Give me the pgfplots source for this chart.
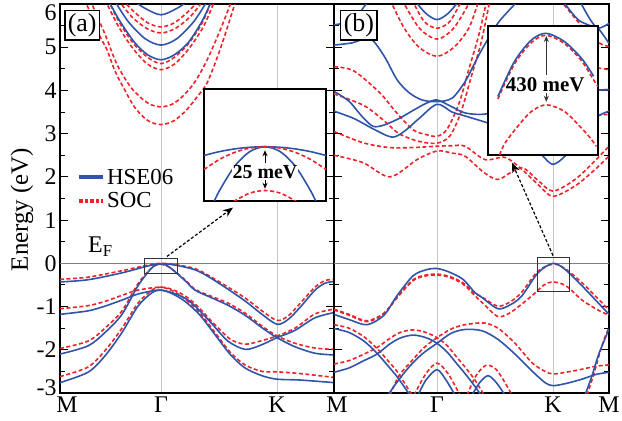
\documentclass[border=0pt]{standalone}
\usepackage{fontspec}
\setmainfont{Liberation Serif}
\usepackage{pgfplots}
\pgfplotsset{compat=1.18}
\usetikzlibrary{arrows.meta}
\definecolor{hseblue}{RGB}{48,84,168}
\definecolor{socred}{RGB}{236,36,42}
\newcommand{\fs}[1]{\fontsize{#1}{#1}\selectfont}
\pgfplotsset{
 hseline/.style={color=hseblue, line width=1.6bp, smooth, mark=none},
 socline/.style={color=socred, line width=1.6bp, dash pattern=on 4bp off 2.5bp, smooth, mark=none},
 band/.style={scale only axis, height=389bp, ymin=-3, ymax=6,
   ytick={-3,-2,...,6}, minor ytick={-2.5,-1.5,...,5.5},
   tick align=inside, major tick length=8bp, minor tick length=5bp,
   major tick style={black, line width=1.2bp}, minor tick style={black,line width=1bp},
   xtick style={draw=none},
   axis line style={line width=1.4bp},
   xmajorgrids, major grid style={color=black!22, line width=0.8bp},
   ticklabel style={font=\fs{24}},
   clip=true},
 inset/.style={scale only axis, ticks=none, axis line style={line width=1.4bp}, axis background/.style={fill=white}, clip=true},
}
\begin{document}
\begin{tikzpicture}
% ================= panel (a) =================
\begin{axis}[band, at={(0bp,0bp)}, anchor=south west, width=274bp,
  xmin=0, xmax=274, xtick={0,101,217,274}, xticklabels={\hspace{14bp}M,Γ,K,{}},
  yticklabels={\raisebox{5bp}[\height][\depth]{-3},-2,-1,0,1,2,3,4,5,\raisebox{-9bp}[\height][\depth]{6}},
  ylabel={Energy (eV)}, ylabel style={at={(rel axis cs:-0.139,0.472)}, anchor=center, font=\fs{25}},
  legend style={at={(rel axis cs:0.062,0.582)}, anchor=north west, draw=none, fill=none, font=\fs{23}, row sep=3bp, inner sep=0bp},
  legend cell align=left]
\addlegendimage{legend image code/.code={\draw[hseblue, line width=4bp] (0bp,0bp) -- (24bp,0bp);}}
\addlegendentry{HSE06}
\addlegendimage{legend image code/.code={\draw[socred, line width=4bp, dash pattern=on 3.5bp off 2bp] (0bp,0bp) -- (24bp,0bp);}}
\addlegendentry{SOC}
\addplot[gray, line width=0.8bp, forget plot] coordinates {(0,0) (274,0)};
% conduction bands SOC
\addplot[socline, forget plot] coordinates {(24,6.1) (29,5.87) (40,5.25) (47,4.94) (55,4.45) (65,4.0) (75,3.6) (88,3.3) (101,3.21) (114,3.3) (127,3.56) (137,3.85) (147,4.17) (160,4.94) (173,5.87) (176,6.1)};
\addplot[socline, forget plot] coordinates {(30,6.1) (45,5.3) (57,4.6) (70,4.1) (80,3.85) (90,3.68) (101,3.62) (112,3.68) (122,3.85) (135,4.2) (148,4.75) (162,5.5) (172,6.1)};
\addplot[socline, forget plot] coordinates {(45,6.1) (58,5.5) (72,5.0) (87,4.62) (101,4.48) (115,4.62) (130,5.0) (144,5.5) (155,6.1)};
\addplot[socline, forget plot] coordinates {(48,6.1) (60,5.55) (74,5.07) (88,4.76) (101,4.62) (114,4.76) (128,5.07) (142,5.55) (152,6.1)};
\addplot[socline, forget plot] coordinates {(58,6.1) (72,5.7) (87,5.43) (101,5.33) (115,5.43) (130,5.7) (144,6.1)};
\addplot[socline, forget plot] coordinates {(62,6.1) (75,5.8) (88,5.56) (101,5.47) (114,5.56) (127,5.8) (140,6.1)};
% conduction bands HSE
\addplot[hseline, forget plot] coordinates {(48,6.1) (60,5.6) (75,5.1) (88,4.82) (101,4.71) (114,4.82) (128,5.1) (142,5.6) (152,6.1)};
\addplot[hseline, forget plot] coordinates {(54,6.1) (68,5.6) (85,5.2) (101,5.05) (117,5.2) (134,5.6) (148,6.1)};
\addplot[hseline, forget plot] coordinates {(72,6.1) (85,5.9) (101,5.75) (117,5.9) (130,6.1)};
% valence SOC
\addplot[socline, forget plot] coordinates {(0,-0.37) (28,-0.32) (62,-0.17) (88,-0.04) (101,0.0) (115,-0.03) (135,-0.12) (150,-0.3) (168,-0.55) (185,-0.8) (202,-1.1) (217,-1.32) (228,-1.22) (240,-0.93) (255,-0.55) (265,-0.4) (274,-0.37)};
\addplot[socline, forget plot] coordinates {(0,-1.97) (28,-1.8) (45,-1.5) (62,-1.1) (78,-0.47) (92,-0.1) (101,-0.02) (110,-0.1) (125,-0.38) (135,-0.6) (150,-0.75) (168,-0.92) (185,-1.15) (202,-1.45) (217,-1.68) (235,-1.85) (255,-1.96) (274,-1.99)};
\addplot[socline, forget plot] coordinates {(0,-1.05) (28,-0.98) (45,-0.88) (62,-0.74) (78,-0.62) (101,-0.55) (115,-0.63) (128,-0.8) (140,-1.05) (152,-1.35) (170,-1.75) (185,-1.87) (200,-1.8) (217,-1.68) (235,-1.5) (255,-1.17) (274,-1.06)};
\addplot[socline, forget plot] coordinates {(0,-2.62) (28,-2.4) (45,-2.02) (62,-1.5) (78,-0.92) (92,-0.62) (101,-0.55) (112,-0.63) (125,-0.82) (140,-1.15) (155,-1.6) (170,-2.05) (185,-2.35) (202,-2.5) (217,-2.51) (240,-2.55) (274,-2.64)};
% valence HSE
\addplot[hseline, forget plot] coordinates {(0,-0.43) (28,-0.38) (62,-0.22) (88,-0.06) (101,-0.01) (115,-0.04) (135,-0.15) (150,-0.33) (168,-0.60) (185,-0.87) (202,-1.18) (217,-1.41) (228,-1.30) (240,-1.02) (255,-0.62) (265,-0.46) (274,-0.42)};
\addplot[hseline, forget plot] coordinates {(0,-2.10) (28,-1.91) (45,-1.60) (62,-1.18) (78,-0.52) (92,-0.10) (101,-0.01) (110,-0.10) (125,-0.40) (135,-0.62) (150,-0.78) (168,-0.97) (185,-1.2) (202,-1.49) (217,-1.72) (235,-1.93) (255,-2.08) (274,-2.12)};
\addplot[hseline, forget plot] coordinates {(0,-1.18) (28,-1.10) (45,-0.99) (62,-0.85) (78,-0.71) (92,-0.64) (101,-0.62) (115,-0.7) (128,-0.85) (140,-1.1) (152,-1.4) (168,-1.8) (185,-1.99) (200,-1.9) (217,-1.72) (235,-1.55) (255,-1.26) (274,-1.14)};
\addplot[hseline, forget plot] coordinates {(0,-2.76) (28,-2.52) (45,-2.14) (62,-1.60) (78,-0.99) (92,-0.68) (101,-0.62) (112,-0.7) (125,-0.88) (140,-1.2) (155,-1.65) (170,-2.1) (185,-2.42) (202,-2.6) (217,-2.68) (240,-2.7) (274,-2.76)};
% annotations
\draw[black!80, line width=0.8bp] (axis cs:84,0.115) rectangle (axis cs:117,-0.23);
\draw[black, line width=1.2bp, dash pattern=on 3bp off 2bp, -{Stealth[length=10bp,width=8bp]}] (axis cs:107,0.16) -- (axis cs:173,1.29);
\node[anchor=base west, inner sep=0bp, font=\fs{24}] at (axis cs:28,0.25) {E\textsubscript{F}};
\node[draw, line width=1.4bp, fill=white, inner sep=3bp, anchor=north west, font=\fs{26}] at (rel axis cs:0.015,0.985) {(a)};
\coordinate (bl) at (rel axis cs:0,0);
\end{axis}
% ================= panel (b) =================
\begin{axis}[band, at={(274bp,0bp)}, anchor=south west, width=275bp,
  xmin=0, xmax=275, xtick={0,103,219,275}, xticklabels={\hspace{6bp}M,Γ,K,M\hspace{18bp}},
  yticklabels={}]
\addplot[gray, line width=0.8bp] coordinates {(0,0) (275,0)};
% conduction SOC
\addplot[socline] coordinates {(56,6.1) (70,5.45) (85,5.0) (103,4.79) (120,5.0) (135,5.45) (145,6.1)};
\addplot[socline] coordinates {(68,6.1) (85,5.45) (103,5.19) (120,5.45) (137,6.1)};
\addplot[socline] coordinates {(78,6.1) (90,5.6) (103,5.44) (116,5.6) (128,6.1)};
\addplot[socline] coordinates {(0,4.55) (20,4.45) (46,3.94) (62,3.5) (79,3.09) (92,2.98) (103,2.94) (113,3.1) (125,3.7) (135,4.5) (145,5.3) (153,6.1)};
\addplot[socline] coordinates {(0,3.92) (30,3.65) (50,3.3) (65,3.0) (85,2.82) (103,2.78) (116,2.95) (127,3.5) (137,4.3) (147,5.1) (156,6.1)};
\addplot[socline] coordinates {(0,3.05) (29,2.79) (55,2.68) (80,2.68) (103,2.71) (118,2.72) (131,2.71) (151,2.40) (171,2.45) (188,2.17) (205,1.8) (219,1.55) (241,1.79) (260,2.15) (275,2.48)};
\addplot[socline] coordinates {(0,2.5) (29,2.33) (56,2.0) (83,2.4) (103,2.6) (118,2.55) (131,2.48) (150,2.1) (164,1.94) (178,2.12) (189,2.21) (204,1.92) (219,1.67) (241,1.94) (260,2.35) (275,2.71)};
\addplot[socline] coordinates {(226,6.1) (240,5.7) (255,5.3) (265,5.1) (275,5.01)};
\addplot[socline] coordinates {(180,4.3) (220,4.5) (250,4.55) (264,4.52) (275,4.48)};
\addplot[socline] coordinates {(180,3.7) (220,3.85) (250,3.98) (264,4.01) (275,4.02)};
\addplot[socline] coordinates {(180,3.1) (220,3.2) (250,3.35) (264,3.42) (275,3.45)};
% conduction HSE
\addplot[hseline] coordinates {(80,6.1) (92,5.78) (103,5.64) (114,5.78) (126,6.1)};
\addplot[hseline] coordinates {(0,5.05) (18,5.1) (36,5.2) (50,4.8) (63,4.25) (75,3.95) (88,3.78) (103,3.74) (118,3.82) (131,4.2) (140,4.6) (148,4.95) (164,5.56) (181,6.0) (185,6.1)};
\addplot[hseline] coordinates {(0,3.98) (15,3.75) (28,3.4) (39,3.17) (50,3.2) (65,3.35) (80,3.55) (92,3.7) (103,3.78) (118,3.62) (131,3.48) (150,3.45) (175,3.6) (200,3.8) (230,3.95) (260,4.0) (275,4.02)};
\addplot[hseline] coordinates {(0,3.52) (20,3.35) (40,3.1) (58,2.92) (70,3.05) (85,3.35) (103,3.68) (118,3.5) (131,3.41) (160,3.2) (180,3.0) (200,2.75) (209,2.48) (219,2.29) (231,2.48) (245,2.9) (260,3.35) (275,3.52)};
\addplot[hseline] coordinates {(228,6.1) (236,5.85) (245,5.62) (256,5.5) (264,5.44) (275,5.09)};
\addplot[hseline] coordinates {(0,5.52) (10,5.56) (22,5.7) (35,6.1)};
\addplot[hseline] coordinates {(245,6.1) (256,5.65) (264,5.44) (275,5.55)};
% valence SOC
\addplot[socline] coordinates {(0,-1.06) (15,-1.18) (33,-1.33) (50,-1.15) (63,-0.78) (79,-0.38) (92,-0.27) (103,-0.25) (115,-0.3) (129,-0.45) (141,-0.7) (148,-0.78) (164,-0.99) (177,-0.88) (188,-0.66) (204,-0.18) (219,-0.02) (231,-0.12) (248,-0.45) (264,-0.82) (275,-1.08)};
\addplot[socline] coordinates {(0,-1.08) (15,-1.2) (33,-1.35) (50,-1.17) (63,-0.8) (79,-0.4) (92,-0.29) (103,-0.27) (115,-0.32) (129,-0.48) (141,-0.75) (150,-0.95) (164,-1.23) (177,-1.13) (198,-0.75) (210,-0.5) (219,-0.43) (232,-0.52) (248,-0.85) (264,-1.08) (275,-1.2)};
\addplot[socline] coordinates {(0,-1.42) (15,-1.5) (30,-1.7) (43,-1.97) (55,-2.28) (63,-2.5) (70,-2.75) (78,-3.05)};
\addplot[socline] coordinates {(0,-2.33) (15,-2.25) (30,-2.1) (43,-1.95) (55,-1.75) (66,-1.6) (79,-1.54) (92,-1.6) (103,-1.72) (113,-1.9) (122,-2.15) (131,-2.4) (141,-2.7) (150,-3.05)};
\addplot[socline] coordinates {(56,-3.05) (65,-2.6) (78,-2.25) (90,-1.95) (103,-1.72) (117,-1.52) (131,-1.42) (150,-1.38) (164,-1.5) (181,-1.85) (198,-2.3) (211,-2.5) (219,-2.56) (232,-2.52) (248,-2.45) (262,-2.38) (275,-2.35)};
\addplot[socline] coordinates {(253,-3.05) (260,-2.55) (266,-2.05) (271,-1.7) (275,-1.49)};
\addplot[socline] coordinates {(80,-3.05) (92,-2.55) (103,-2.31) (114,-2.55) (126,-3.05)};
\addplot[socline] coordinates {(133,-3.05) (142,-2.6) (152,-2.36) (162,-2.45) (172,-2.8) (178,-3.05)};
% valence HSE
\addplot[hseline] coordinates {(0,-1.18) (15,-1.3) (33,-1.42) (50,-1.2) (63,-0.75) (79,-0.29) (92,-0.15) (103,-0.12) (115,-0.2) (129,-0.37) (141,-0.68) (148,-0.79) (164,-1.05) (177,-0.95) (188,-0.75) (204,-0.22) (219,0.0) (231,-0.14) (248,-0.52) (264,-0.91) (275,-1.18)};
\addplot[hseline] coordinates {(0,-1.51) (15,-1.6) (30,-1.8) (43,-2.08) (55,-2.4) (63,-2.62) (70,-2.85) (76,-3.05)};
\addplot[hseline] coordinates {(0,-2.52) (15,-2.42) (30,-2.25) (43,-2.1) (55,-1.88) (66,-1.73) (79,-1.66) (92,-1.72) (103,-1.85) (113,-2.05) (122,-2.3) (131,-2.55) (141,-2.85) (147,-3.05)};
\addplot[hseline] coordinates {(54,-3.05) (62,-2.78) (75,-2.4) (88,-2.1) (103,-1.85) (117,-1.62) (131,-1.53) (148,-1.56) (164,-1.76) (181,-2.1) (198,-2.49) (211,-2.76) (219,-2.83) (232,-2.78) (248,-2.68) (262,-2.57) (275,-2.52)};
\addplot[hseline] coordinates {(251,-3.05) (258,-2.6) (264,-2.15) (270,-1.8) (275,-1.52)};
\addplot[hseline] coordinates {(84,-3.05) (92,-2.7) (103,-2.46) (112,-2.7) (121,-3.05)};
\addplot[hseline] coordinates {(138,-3.05) (146,-2.75) (154,-2.6) (162,-2.75) (171,-3.05)};
% annotations
\draw[black!80, line width=0.8bp] (axis cs:203,0.14) rectangle (axis cs:235,-0.65);
\draw[black, line width=1.2bp, dash pattern=on 3bp off 2bp, -{Stealth[length=10bp,width=8bp]}] (axis cs:219,0.18) -- (axis cs:178,2.33);
\node[draw, line width=1.4bp, fill=white, inner sep=3bp, anchor=north west, font=\fs{26}] at (rel axis cs:0.022,0.985) {(b)};
\end{axis}
% ================= inset (a) =================
\begin{axis}[inset, at={(144bp,192bp)}, anchor=south west, width=122bp, height=112bp,
  xmin=-1, xmax=1, ymin=-31, ymax=33]
\addplot[hseline] coordinates {(-1,-5) (-0.75,-2.8) (-0.5,-1.25) (-0.25,-0.31) (0,0) (0.25,-0.31) (0.5,-1.25) (0.75,-2.8) (1,-5)};
\addplot[hseline] coordinates {(-0.85,-32.5) (-0.75,-25.3) (-0.5,-11.25) (-0.25,-2.8) (0,0) (0.25,-2.8) (0.5,-11.25) (0.75,-25.3) (0.85,-32.5)};
\addplot[socline] coordinates {(-1,-13) (-0.75,-7.3) (-0.5,-3.25) (-0.25,-0.8) (0,0) (0.25,-0.8) (0.5,-3.25) (0.75,-7.3) (1,-13)};
\addplot[socline] coordinates {(-0.6,-33.6) (-0.5,-31) (-0.25,-26.5) (0,-25) (0.25,-26.5) (0.5,-31) (0.6,-33.6)};
\draw[black, line width=0.9bp, -{Stealth[length=6bp,width=5bp]}] (axis cs:0,-9.5) -- (axis cs:0,-2);
\draw[black, line width=0.9bp, -{Stealth[length=6bp,width=5bp]}] (axis cs:0,-19) -- (axis cs:0,-24);
\node[font=\bfseries\fs{20}, fill=white, inner sep=0.5bp] at (axis cs:0,-14.5) {25 meV};
\end{axis}
% ================= inset (b) =================
\begin{axis}[inset, at={(428bp,238bp)}, anchor=south west, width=110bp, height=129bp,
  xmin=-1.06, xmax=0.94, ymin=-732, ymax=44]
\addplot[socline] coordinates {(-0.88,-395) (-0.58,-185) (-0.27,-55) (0,-12) (0.33,-62) (0.64,-165) (0.85,-275) (0.94,-320)};
\addplot[hseline] coordinates {(-0.88,-380) (-0.58,-170) (-0.27,-40) (0,0) (0.33,-50) (0.64,-150) (0.86,-258)};
\addplot[socline] coordinates {(-0.85,-732) (-0.75,-660) (-0.52,-560) (-0.27,-470) (0,-430) (0.33,-470) (0.64,-570) (0.8,-630) (0.91,-680)};
\draw[black!80, line width=0.9bp, -{Stealth[length=6bp,width=5bp]}] (axis cs:0,-250) -- (axis cs:0,-16);
\draw[black!80, line width=0.9bp, -{Stealth[length=6bp,width=5bp]}] (axis cs:0,-360) -- (axis cs:0,-412);
\node[font=\bfseries\fs{21}, inner sep=0.5bp] at (axis cs:-0.02,-310) {430 meV};
\end{axis}
\pgfresetboundingbox
\path ([shift={(-60bp,-28bp)}]bl) rectangle ([shift={(562bp,393bp)}]bl);
\end{tikzpicture}
\end{document}
